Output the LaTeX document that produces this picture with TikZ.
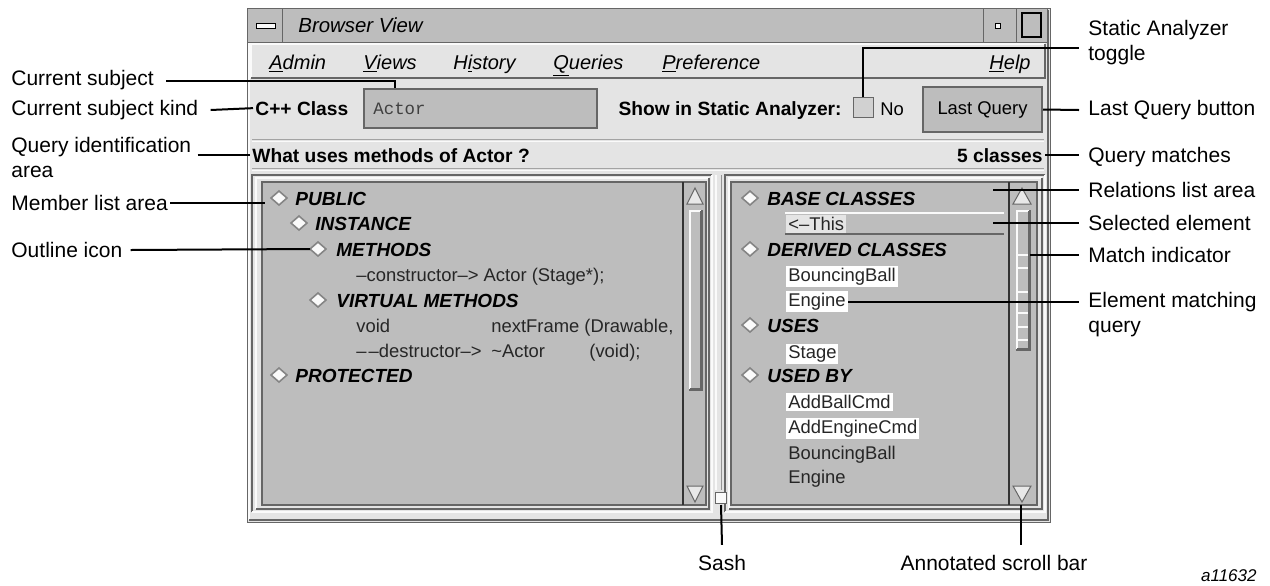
\documentclass[tikz,border=0pt]{standalone}
\usepackage{fontspec}
\setmainfont{Liberation Sans}
\setmonofont{Liberation Mono}
\usepackage{tikz}
\usetikzlibrary{positioning,calc}
\usepackage{xcolor}

\definecolor{winbg}{HTML}{E4E4E4}
\definecolor{panegray}{HTML}{BDBDBD}
\definecolor{edgedark}{HTML}{666666}
\definecolor{edgelite}{HTML}{FAFAFA}

\tikzset{
  callout/.style={font=\fontsize{10.5}{12.5}\selectfont, inner sep=0pt, align=left},
  leader/.style={line width=1pt},
  uibold/.style={font=\fontsize{9.6}{11}\selectfont\bfseries, inner sep=0pt},
  menuitem/.style={font=\fontsize{10}{12}\selectfont\itshape, inner sep=0pt, anchor=base west},
  heading/.style={font=\fontsize{9.5}{11}\selectfont\bfseries\itshape, inner sep=0pt, anchor=base west},
  entry/.style={font=\fontsize{9.2}{11}\selectfont, text=black!85, inner sep=1pt, anchor=base west},
  matched/.style={entry, fill=white},
  outline/.style={fill=edgelite, draw=edgedark!80, line width=0.8pt},
  arrowbtn/.style={fill=edgelite!85!gray, draw=edgedark, line width=0.5pt},
}

% 3d frames: raised = light top/left, sunken = dark top/left
\newcommand{\raisedframe}[4]{%
  \draw[edgelite, line width=1pt] (#1,#4) |- (#3,#2);
  \draw[edgedark, line width=1pt] (#1,#4) -| (#3,#2);}
\newcommand{\sunkenframe}[4]{%
  \draw[edgedark, line width=1pt] (#1,#4) |- (#3,#2);
  \draw[edgelite, line width=1pt] (#1,#4) -| (#3,#2);}

\begin{document}
\begin{tikzpicture}[x=0.5pt,y=-0.5pt]
\useasboundingbox (0,0) rectangle (1270,585);

% window and title bar
\draw[fill=winbg, draw=edgedark] (247,8) rectangle (1050,522);
\raisedframe{249}{10}{1048}{520}
\draw[fill=panegray, draw=edgedark] (247,8) rectangle (1047,42);
\draw[edgedark] (282,8) -- (282,42) (983,8) -- (983,42) (1016,8) -- (1016,42);
\draw[fill=edgelite, draw=black] (256,23) rectangle (275,28);
\node[menuitem, font=\fontsize{10.2}{12}\selectfont\itshape] (title) at (298,32) {Browser View};
\draw[fill=edgelite, draw=black] (995,23) rectangle (1000,28);
\draw[fill=panegray, draw=black, line width=0.8pt] (1022,13) rectangle (1041,37);

% menu bar
\raisedframe{251}{44}{1045}{78}
\node[menuitem] (madmin) at (269,69) {\underline{A}dmin};
\node[menuitem] (mviews) at (363,69) {\underline{V}iews};
\node[menuitem] (mhist) at (453,69) {H\underline{i}story};
\node[menuitem] (mquery) at (553,69) {\underline{Q}ueries};
\node[menuitem] (mpref) at (662,69) {\underline{P}reference};
\node[menuitem, anchor=base east] (mhelp) at (1031,69) {\underline{H}elp};

% subject row
\node[uibold, anchor=base west] (kindlbl) at (255,115) {C++ Class};
\node[draw=edgedark, fill=panegray, line width=1pt, minimum width=116.5pt, minimum height=19.5pt,
      anchor=north west, inner sep=0pt] (subjfield) at (363,88) {};
\node[font=\fontsize{8.7}{10}\selectfont\ttfamily, text=black!75, anchor=base west, inner sep=0pt]
      (subjtext) at (373,114) {Actor};
\node[uibold, anchor=base east] (showlbl) at (842,115) {Show in Static Analyzer:};
\node[draw=edgedark, fill=panegray!70!white, minimum size=10pt, inner sep=0pt] (tglbox) at (863,107.5) {};
\node[font=\fontsize{9.2}{11}\selectfont, anchor=base west, inner sep=0pt] (nolbl) at (880,115) {No};
\node[draw=edgedark, fill=panegray, line width=1pt, minimum width=59.5pt, minimum height=22.5pt,
      inner sep=0pt, font=\fontsize{9.2}{11}\selectfont] (lastq) at (982.5,109.5) {Last Query};

% query identification row
\draw[edgedark!60] (252,139) -- (1044,139);
\draw[edgelite] (252,141) -- (1044,141);
\node[uibold, anchor=base west] (querylbl) at (252,162) {What uses methods of Actor ?};
\node[uibold, anchor=base east] (matchcount) at (1043,162) {5 classes};
\draw[edgedark!60] (252,168) -- (1044,168);
\draw[edgelite] (252,170) -- (1044,170);

% member list pane
\sunkenframe{252}{175}{712}{512}
\raisedframe{256}{178}{709}{509}
\draw[fill=panegray, draw=edgedark, line width=1pt] (262,182) rectangle (706,505);
\draw[black!80, line width=1pt] (683,182) -- (683,505);
\draw[arrowbtn] (687,204) -- (703,204) -- (695,188) -- cycle;
\draw[arrowbtn] (687,486) -- (703,486) -- (695,502) -- cycle;
\draw[fill=panegray, draw=edgedark] (689,210) rectangle (702,390);
\raisedframe{690}{211}{701}{389}

% relations list pane
\sunkenframe{725}{175}{1045}{512}
\raisedframe{729}{178}{1042}{509}
\draw[fill=panegray, draw=edgedark, line width=1pt] (731,182) rectangle (1037,505);
\draw[black!80, line width=1pt] (1009,182) -- (1009,505);
\draw[arrowbtn] (1013,204) -- (1031,204) -- (1022,188) -- cycle;
\draw[arrowbtn] (1013,486) -- (1031,486) -- (1022,502) -- cycle;
\draw[fill=panegray, draw=edgedark] (1016,210) rectangle (1030,350);
\raisedframe{1017}{211}{1029}{349}
\foreach \t in {255,268,292,313,327,340}
  \draw[edgelite, line width=1pt] (1018,\t) -- (1028,\t);

% sash
\draw[edgelite, line width=1pt] (716,175) -- (716,490);
\draw[edgedark!70] (721,175) -- (721,490);
\draw[fill=edgelite, draw=edgedark] (715,492) rectangle (726,503);

% outline icons
\foreach \x/\y in {279/198, 299/223, 318/249, 318/300, 279/375, 750/198, 750/249, 750/325, 750/375}
  \draw[outline] (\x-8,\y) -- (\x,\y-7) -- (\x+8,\y) -- (\x,\y+7) -- cycle;

% member list text
\node[heading] (hpub) at (295,205) {PUBLIC};
\node[heading] (hinst) at (315,230) {INSTANCE};
\node[heading] (hmeth) at (336,256) {METHODS};
\node[entry] (ctor) at (354,281.6) {\textendash constructor\textendash> Actor (Stage*);};
\node[heading] (hvirt) at (336,307) {VIRTUAL METHODS};
\node[entry] (vvoid) at (354,332.6) {void};
\begin{scope}
  \clip (262,182) rectangle (674,505);
  \node[entry] (vnext) at (489,332.6) {nextFrame (Drawable,};
\end{scope}
\node[entry] (dtor) at (354,357.6) {\textendash\kern1pt\textendash destructor\textendash>};
\node[entry] (dname) at (489,357.6) {\textasciitilde Actor};
\node[entry] (dargs) at (587,357.6) {(void);};
\node[heading] (hprot) at (295,382) {PROTECTED};

% relations list text
\node[heading] (hbase) at (767,205) {BASE CLASSES};
\draw[edgelite, line width=1pt] (785,213) -- (1004,213);
\draw[edgedark, line width=1pt] (785,234) -- (1004,234);
\node[entry, fill=white!60!panegray] (this) at (786,230.6) {<\textendash This};
\node[heading] (hderiv) at (767,256) {DERIVED CLASSES};
\node[matched] (bball1) at (786,281.6) {BouncingBall};
\node[matched] (eng1) at (786,306.6) {Engine};
\node[heading] (huses) at (767,332) {USES};
\node[matched] (stage) at (786,358.6) {Stage};
\node[heading] (husedby) at (767,382) {USED BY};
\node[matched] (addball) at (786,408.6) {AddBallCmd};
\node[matched] (addeng) at (786,433.6) {AddEngineCmd};
\node[entry] (bball2) at (786,459.6) {BouncingBall};
\node[entry] (eng2) at (786,483.6) {Engine};

% callout targets
\coordinate (mlist) at (265,203);
\coordinate (oicon) at (310,249);
\coordinate (tglturn) at (tglbox.north |- 0,48);
\coordinate (rlist) at (993,190);
\coordinate (selel) at (993,223);
\coordinate (mind) at (1030,255);
\coordinate (sashpt) at (721,505);
\coordinate (sbar) at (1021,505);

% callout labels, left
\node[callout, anchor=west] (lsubj) at (11,80) {Current subject};
\node[callout, anchor=west] (lkind) at (11,110) {Current subject kind};
\node[callout, anchor=west] (lqarea) at (11,157.5) {Query identification\\area};
\node[callout, anchor=west] (lmlist) at (11,203) {Member list area};
\node[callout, anchor=west] (loicon) at (11,250) {Outline icon};

% callout labels, right
\node[callout, anchor=west] (lstat) at (1088,43) {Static Analyzer\\toggle};
\node[callout, anchor=west] (llastq) at (1088,110) {Last Query button};
\node[callout, anchor=west] (lqm) at (1088,157) {Query matches};
\node[callout, anchor=west] (lrl) at (1088,190) {Relations list area};
\node[callout, anchor=west] (lsel) at (1088,223) {Selected element};
\node[callout, anchor=west] (lmi) at (1088,255) {Match indicator};
\node[callout, anchor=west] (lem) at (1088,314.5) {Element matching\\query};
\node[callout] (lsash) at (722,563) {Sash};
\node[callout] (lsbar) at (994,563) {Annotated scroll bar};
\node[font=\fontsize{8.5}{10}\selectfont\itshape, inner sep=0pt, anchor=east] (figid) at (1257,576) {a11632};

% leaders
\draw[leader] ([xshift=6pt]lsubj.east |- 0,81) -| ([xshift=16pt]subjfield.north west);
\draw[leader] ([xshift=6pt]lkind.east) -- ([xshift=-1pt]kindlbl.west);
\draw[leader] ([xshift=3pt]lqarea.east |- querylbl) -- ([xshift=-1pt]querylbl.west);
\draw[leader] ([xshift=1pt]lmlist.east) -- (mlist);
\draw[leader] ([xshift=4pt]loicon.east) -- (oicon);
\draw[leader] (tglbox.north) -- (tglturn) -- ([xshift=-4.5pt]lstat.west |- tglturn);
\draw[leader] (lastq.east) -- ([xshift=-4.5pt]llastq.west);
\draw[leader] ([xshift=1pt]matchcount.east) -- ([xshift=-4.5pt]lqm.west |- matchcount);
\draw[leader] (rlist) -- ([xshift=-4.5pt]lrl.west |- rlist);
\draw[leader] (selel) -- ([xshift=-4.5pt]lsel.west |- selel);
\draw[leader] (mind) -- ([xshift=-4.5pt]lmi.west |- mind);
\draw[leader] (eng1.east) -- ([xshift=-4.5pt]lem.west |- eng1.east);
\draw[leader] (sashpt) -- ([yshift=5pt]lsash.north);
\path ([yshift=5pt]lsbar.north) coordinate (sbarend);
\draw[leader] (sbar) -- (sbar |- sbarend);
\end{tikzpicture}
\end{document}
